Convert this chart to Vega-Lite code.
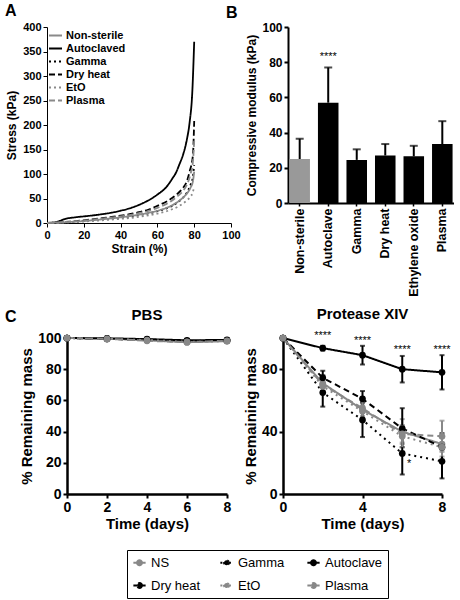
{
  "$schema": "https://vega.github.io/schema/vega-lite/v6.json",
  "padding": {"left": 5, "top": 3, "right": 0, "bottom": 0},
  "spacing": 10,
  "title": {"text": "A", "anchor": "start", "frame": "bounds", "fontSize": 16, "offset": -14},
  "config": {
    "font": "Liberation Sans",
    "view": {"stroke": null},
    "axis": {"grid": false, "labelFontWeight": "bold", "titleFontWeight": "bold", "domainColor": "black", "tickColor": "black", "labelColor": "black", "titleColor": "black", "labelOverlap": false, "labelFlush": false},
    "title": {"fontWeight": "bold", "color": "black"},
    "legend": {"labelColor": "black"}
  },
  "datasets": {
    "stress": [
      {"t": "Autoclaved", "s": 0, "v": 0}, {"t": "Autoclaved", "s": 3, "v": 0.5}, {"t": "Autoclaved", "s": 6, "v": 3}, {"t": "Autoclaved", "s": 10, "v": 8.5}, {"t": "Autoclaved", "s": 15, "v": 11.5}, {"t": "Autoclaved", "s": 20, "v": 13.5}, {"t": "Autoclaved", "s": 25, "v": 15.5}, {"t": "Autoclaved", "s": 30, "v": 18}, {"t": "Autoclaved", "s": 35, "v": 21}, {"t": "Autoclaved", "s": 40, "v": 25}, {"t": "Autoclaved", "s": 45, "v": 30}, {"t": "Autoclaved", "s": 50, "v": 37}, {"t": "Autoclaved", "s": 55, "v": 46}, {"t": "Autoclaved", "s": 60, "v": 58}, {"t": "Autoclaved", "s": 65, "v": 74}, {"t": "Autoclaved", "s": 68, "v": 90}, {"t": "Autoclaved", "s": 70, "v": 102}, {"t": "Autoclaved", "s": 72, "v": 120}, {"t": "Autoclaved", "s": 74, "v": 140}, {"t": "Autoclaved", "s": 76, "v": 170}, {"t": "Autoclaved", "s": 77.5, "v": 205}, {"t": "Autoclaved", "s": 79, "v": 270}, {"t": "Autoclaved", "s": 80, "v": 370},
      {"t": "Dry heat", "s": 0, "v": 0}, {"t": "Dry heat", "s": 10, "v": 2}, {"t": "Dry heat", "s": 20, "v": 5.5}, {"t": "Dry heat", "s": 30, "v": 10}, {"t": "Dry heat", "s": 40, "v": 15}, {"t": "Dry heat", "s": 50, "v": 22}, {"t": "Dry heat", "s": 55, "v": 27}, {"t": "Dry heat", "s": 60, "v": 35}, {"t": "Dry heat", "s": 65, "v": 44}, {"t": "Dry heat", "s": 68, "v": 51}, {"t": "Dry heat", "s": 71, "v": 60}, {"t": "Dry heat", "s": 74, "v": 72}, {"t": "Dry heat", "s": 76, "v": 85}, {"t": "Dry heat", "s": 77.5, "v": 105}, {"t": "Dry heat", "s": 79.3, "v": 138}, {"t": "Dry heat", "s": 80, "v": 208},
      {"t": "Plasma", "s": 0, "v": 0}, {"t": "Plasma", "s": 10, "v": 2}, {"t": "Plasma", "s": 20, "v": 5}, {"t": "Plasma", "s": 30, "v": 9}, {"t": "Plasma", "s": 40, "v": 13.5}, {"t": "Plasma", "s": 50, "v": 20}, {"t": "Plasma", "s": 55, "v": 24.5}, {"t": "Plasma", "s": 60, "v": 31}, {"t": "Plasma", "s": 65, "v": 39}, {"t": "Plasma", "s": 68, "v": 46}, {"t": "Plasma", "s": 71, "v": 55}, {"t": "Plasma", "s": 74, "v": 66}, {"t": "Plasma", "s": 76, "v": 78}, {"t": "Plasma", "s": 78, "v": 100}, {"t": "Plasma", "s": 79.3, "v": 125}, {"t": "Plasma", "s": 80, "v": 168},
      {"t": "Gamma", "s": 0, "v": 0}, {"t": "Gamma", "s": 10, "v": 1.5}, {"t": "Gamma", "s": 20, "v": 4}, {"t": "Gamma", "s": 30, "v": 7}, {"t": "Gamma", "s": 40, "v": 11}, {"t": "Gamma", "s": 50, "v": 16}, {"t": "Gamma", "s": 55, "v": 19.5}, {"t": "Gamma", "s": 60, "v": 24}, {"t": "Gamma", "s": 65, "v": 30}, {"t": "Gamma", "s": 68, "v": 35}, {"t": "Gamma", "s": 71, "v": 42}, {"t": "Gamma", "s": 74, "v": 52}, {"t": "Gamma", "s": 76, "v": 62}, {"t": "Gamma", "s": 78, "v": 78}, {"t": "Gamma", "s": 79.3, "v": 95}, {"t": "Gamma", "s": 80, "v": 118},
      {"t": "Non-sterile", "s": 0, "v": 0}, {"t": "Non-sterile", "s": 10, "v": 1.5}, {"t": "Non-sterile", "s": 20, "v": 4}, {"t": "Non-sterile", "s": 30, "v": 7.5}, {"t": "Non-sterile", "s": 40, "v": 11.5}, {"t": "Non-sterile", "s": 50, "v": 17}, {"t": "Non-sterile", "s": 55, "v": 20.5}, {"t": "Non-sterile", "s": 60, "v": 25}, {"t": "Non-sterile", "s": 65, "v": 31}, {"t": "Non-sterile", "s": 68, "v": 36}, {"t": "Non-sterile", "s": 71, "v": 43}, {"t": "Non-sterile", "s": 74, "v": 52}, {"t": "Non-sterile", "s": 76, "v": 60}, {"t": "Non-sterile", "s": 78, "v": 72}, {"t": "Non-sterile", "s": 79.3, "v": 85}, {"t": "Non-sterile", "s": 80, "v": 105},
      {"t": "EtO", "s": 0, "v": 0}, {"t": "EtO", "s": 10, "v": 1}, {"t": "EtO", "s": 20, "v": 3}, {"t": "EtO", "s": 30, "v": 5.5}, {"t": "EtO", "s": 40, "v": 8.5}, {"t": "EtO", "s": 50, "v": 12.5}, {"t": "EtO", "s": 55, "v": 15.5}, {"t": "EtO", "s": 60, "v": 19}, {"t": "EtO", "s": 65, "v": 24}, {"t": "EtO", "s": 68, "v": 28}, {"t": "EtO", "s": 71, "v": 33}, {"t": "EtO", "s": 74, "v": 40}, {"t": "EtO", "s": 76, "v": 46}, {"t": "EtO", "s": 78, "v": 54}, {"t": "EtO", "s": 79.3, "v": 63}, {"t": "EtO", "s": 80, "v": 75}
    ],
    "modulus": [
      {"t": "Non-sterile", "m": 25, "hi": 36.5},
      {"t": "Autoclave", "m": 57, "hi": 77},
      {"t": "Gamma", "m": 24.5, "hi": 30.5},
      {"t": "Dry heat", "m": 27, "hi": 33.5},
      {"t": "Ethylene oxide", "m": 26.5, "hi": 32.5},
      {"t": "Plasma", "m": 33.5, "hi": 46.5}
    ],
    "modstars": [{"t": "Autoclave", "m": 83, "label": "****"}],
    "mass": [
      {"c": "PBS", "g": "NS", "day": 0, "y": 100}, {"c": "PBS", "g": "NS", "day": 2, "y": 99.6}, {"c": "PBS", "g": "NS", "day": 4, "y": 98.5}, {"c": "PBS", "g": "NS", "day": 6, "y": 97.3}, {"c": "PBS", "g": "NS", "day": 8, "y": 98},
      {"c": "PBS", "g": "Gamma", "day": 0, "y": 100}, {"c": "PBS", "g": "Gamma", "day": 2, "y": 99.5}, {"c": "PBS", "g": "Gamma", "day": 4, "y": 99}, {"c": "PBS", "g": "Gamma", "day": 6, "y": 98}, {"c": "PBS", "g": "Gamma", "day": 8, "y": 98.5},
      {"c": "PBS", "g": "Autoclave", "day": 0, "y": 100}, {"c": "PBS", "g": "Autoclave", "day": 2, "y": 99.8}, {"c": "PBS", "g": "Autoclave", "day": 4, "y": 99.3}, {"c": "PBS", "g": "Autoclave", "day": 6, "y": 98.5}, {"c": "PBS", "g": "Autoclave", "day": 8, "y": 98.8},
      {"c": "PBS", "g": "Dry heat", "day": 0, "y": 100}, {"c": "PBS", "g": "Dry heat", "day": 2, "y": 99.5}, {"c": "PBS", "g": "Dry heat", "day": 4, "y": 98.8}, {"c": "PBS", "g": "Dry heat", "day": 6, "y": 98}, {"c": "PBS", "g": "Dry heat", "day": 8, "y": 98.3},
      {"c": "PBS", "g": "EtO", "day": 0, "y": 100}, {"c": "PBS", "g": "EtO", "day": 2, "y": 99.3}, {"c": "PBS", "g": "EtO", "day": 4, "y": 98.7}, {"c": "PBS", "g": "EtO", "day": 6, "y": 97.5}, {"c": "PBS", "g": "EtO", "day": 8, "y": 98},
      {"c": "PBS", "g": "Plasma", "day": 0, "y": 100}, {"c": "PBS", "g": "Plasma", "day": 2, "y": 99.5}, {"c": "PBS", "g": "Plasma", "day": 4, "y": 98.2}, {"c": "PBS", "g": "Plasma", "day": 6, "y": 97.3}, {"c": "PBS", "g": "Plasma", "day": 8, "y": 98.2},
      {"c": "P", "g": "NS", "day": 0, "y": 100, "lo": 100, "hi": 100}, {"c": "P", "g": "NS", "day": 2, "y": 71, "lo": 66, "hi": 76}, {"c": "P", "g": "NS", "day": 4, "y": 54, "lo": 49, "hi": 59}, {"c": "P", "g": "NS", "day": 6, "y": 40, "lo": 32, "hi": 48}, {"c": "P", "g": "NS", "day": 8, "y": 32, "lo": 27, "hi": 37},
      {"c": "P", "g": "Gamma", "day": 0, "y": 100, "lo": 100, "hi": 100}, {"c": "P", "g": "Gamma", "day": 2, "y": 65, "lo": 56, "hi": 76}, {"c": "P", "g": "Gamma", "day": 4, "y": 47.5, "lo": 36.5, "hi": 58.5}, {"c": "P", "g": "Gamma", "day": 6, "y": 26, "lo": 12.5, "hi": 39.5}, {"c": "P", "g": "Gamma", "day": 8, "y": 21, "lo": 10, "hi": 32},
      {"c": "P", "g": "Autoclave", "day": 0, "y": 100, "lo": 100, "hi": 100}, {"c": "P", "g": "Autoclave", "day": 2, "y": 93.5, "lo": 92, "hi": 95}, {"c": "P", "g": "Autoclave", "day": 4, "y": 89, "lo": 83, "hi": 95}, {"c": "P", "g": "Autoclave", "day": 6, "y": 80, "lo": 71.5, "hi": 88.5}, {"c": "P", "g": "Autoclave", "day": 8, "y": 78, "lo": 67, "hi": 89},
      {"c": "P", "g": "Dry heat", "day": 0, "y": 100, "lo": 100, "hi": 100}, {"c": "P", "g": "Dry heat", "day": 2, "y": 74.5, "lo": 70, "hi": 79}, {"c": "P", "g": "Dry heat", "day": 4, "y": 61, "lo": 56, "hi": 66}, {"c": "P", "g": "Dry heat", "day": 6, "y": 42, "lo": 30, "hi": 55}, {"c": "P", "g": "Dry heat", "day": 8, "y": 30, "lo": 21, "hi": 39},
      {"c": "P", "g": "EtO", "day": 0, "y": 100, "lo": 100, "hi": 100}, {"c": "P", "g": "EtO", "day": 2, "y": 69, "lo": 64, "hi": 74}, {"c": "P", "g": "EtO", "day": 4, "y": 53, "lo": 48, "hi": 58}, {"c": "P", "g": "EtO", "day": 6, "y": 37, "lo": 30, "hi": 44}, {"c": "P", "g": "EtO", "day": 8, "y": 30, "lo": 24, "hi": 36},
      {"c": "P", "g": "Plasma", "day": 0, "y": 100, "lo": 100, "hi": 100}, {"c": "P", "g": "Plasma", "day": 2, "y": 70, "lo": 65, "hi": 75}, {"c": "P", "g": "Plasma", "day": 4, "y": 55, "lo": 50, "hi": 60}, {"c": "P", "g": "Plasma", "day": 6, "y": 38.5, "lo": 33, "hi": 44}, {"c": "P", "g": "Plasma", "day": 8, "y": 37, "lo": 28, "hi": 47}
    ],
    "massstars": [
      {"day": 2, "y": 101, "label": "****"},
      {"day": 4, "y": 98, "label": "****"},
      {"day": 6, "y": 92.5, "label": "****"},
      {"day": 8, "y": 92.5, "label": "****"},
      {"day": 6.35, "y": 19, "label": "*"}
    ]
  },
  "resolve": {"scale": {"color": "independent", "strokeDash": "independent"}, "legend": {"color": "independent", "strokeDash": "independent"}},
  "vconcat": [
    {
      "spacing": -15,
      "resolve": {"scale": {"color": "independent", "strokeDash": "independent"}, "legend": {"color": "independent", "strokeDash": "independent"}},
      "hconcat": [
        {
          "width": 184,
          "height": 196,
          "data": {"name": "stress"},
          "mark": {"type": "line", "strokeWidth": 1.8, "interpolate": "monotone"},
          "encoding": {
            "x": {"field": "s", "type": "quantitative", "scale": {"domain": [0, 100]}, "axis": {"values": [0, 20, 40, 60, 80, 100], "title": "Strain (%)", "labelFontSize": 11, "titleFontSize": 12, "tickSize": 4, "titlePadding": 3}},
            "y": {"field": "v", "type": "quantitative", "scale": {"domain": [0, 400]}, "axis": {"values": [0, 50, 100, 150, 200, 250, 300, 350, 400], "title": "Stress (kPa)", "labelFontSize": 11, "titleFontSize": 12, "tickSize": 4, "titlePadding": 4}},
            "color": {"field": "t", "type": "nominal", "scale": {"domain": ["Non-sterile", "Autoclaved", "Gamma", "Dry heat", "EtO", "Plasma"], "range": ["#8a8a8a", "#000000", "#000000", "#000000", "#8a8a8a", "#8a8a8a"]},
              "legend": {"title": null, "orient": "top-left", "offset": 1, "padding": 0, "labelFontSize": 11, "labelFontWeight": "bold", "symbolSize": 169, "symbolStrokeWidth": 2, "rowPadding": 0, "labelOffset": 3}},
            "strokeDash": {"field": "t", "type": "nominal", "scale": {"domain": ["Non-sterile", "Autoclaved", "Gamma", "Dry heat", "EtO", "Plasma"], "range": [[1, 0], [1, 0], [2, 3], [6, 3], [2, 3], [6, 3]]},
              "legend": {"title": null, "orient": "top-left", "offset": 1, "padding": 0, "labelFontSize": 11, "labelFontWeight": "bold", "symbolSize": 169, "symbolStrokeWidth": 2, "rowPadding": 0, "labelOffset": 3}}
          }
        },
        {
          "width": 166,
          "height": 176,
          "title": {"text": "B", "anchor": "start", "frame": "group", "dx": -62, "fontSize": 16, "offset": 0},
          "data": {"name": "modulus"},
          "encoding": {
            "x": {"field": "t", "type": "nominal", "sort": null, "scale": {"paddingInner": 0.28, "paddingOuter": 0.05}, "axis": {"title": null, "labelAngle": -90, "labelFontSize": 12.5, "tickSize": 3, "tickWidth": 1.5, "domainWidth": 2, "labelPadding": 2}},
            "y": {"field": "m", "type": "quantitative", "scale": {"domain": [0, 100]}, "axis": {"values": [0, 20, 40, 60, 80, 100], "tickCount": 6, "labelOverlap": false, "title": "Compressive modulus (kPa)", "labelFontSize": 12, "titleFontSize": 12, "domainWidth": 2, "tickWidth": 2, "tickSize": 4, "titlePadding": 3}}
          },
          "layer": [
            {
              "mark": {"type": "bar"},
              "encoding": {
                "color": {"condition": {"test": "datum.t === 'Non-sterile'", "value": "#999999"}, "value": "#000000"}
              }
            },
            {
              "mark": {"type": "rule", "strokeWidth": 2, "color": "#000000"},
              "encoding": {"y2": {"field": "hi"}}
            },
            {
              "mark": {"type": "tick", "thickness": 2, "size": 8, "color": "#000000"},
              "encoding": {"y": {"field": "hi", "type": "quantitative", "axis": {"values": [0, 20, 40, 60, 80, 100], "tickCount": 6, "labelOverlap": false, "title": "Compressive modulus (kPa)", "labelFontSize": 12, "titleFontSize": 12, "domainWidth": 2, "tickWidth": 2, "tickSize": 4, "titlePadding": 3}}}
            },
            {
              "data": {"name": "modstars"},
              "mark": {"type": "text", "fontSize": 11, "color": "#000000", "baseline": "middle"},
              "encoding": {"text": {"field": "label"}}
            }
          ]
        }
      ]
    },
    {
      "spacing": -29,
      "hconcat": [
        {
          "width": 1,
          "height": 156,
          "title": {"text": "C", "anchor": "start", "frame": "group", "dx": -42, "fontSize": 16, "offset": 13},
          "data": {"values": []},
          "mark": {"type": "point"},
          "encoding": {}
        },
        {
          "spacing": 12,
          "hconcat": [
            {
              "width": 160,
              "height": 156,
              "title": {"text": "PBS", "fontSize": 15, "offset": 8},
              "data": {"name": "mass"},
              "transform": [{"filter": "datum.c === 'PBS'"}],
              "encoding": {
                "x": {"field": "day", "type": "quantitative", "scale": {"domain": [0, 8]}, "axis": {"values": [0, 2, 4, 6, 8], "title": "Time (days)", "labelFontSize": 14, "titleFontSize": 15, "domainWidth": 2.5, "tickWidth": 2, "tickSize": 4, "titlePadding": 2}},
                "y": {"field": "y", "type": "quantitative", "scale": {"domain": [0, 100]}, "axis": {"values": [0, 20, 40, 60, 80, 100], "title": "% Remaining mass", "labelFontSize": 14, "titleFontSize": 15, "domainWidth": 2.5, "tickWidth": 2, "tickSize": 4, "titlePadding": 3}},
                "color": {"field": "g", "type": "nominal", "scale": {"domain": ["NS", "Gamma", "Autoclave", "Dry heat", "EtO", "Plasma"], "range": ["#888888", "#000000", "#000000", "#000000", "#888888", "#888888"]},
                  "legend": {"title": null, "orient": "none", "legendX": 80, "legendY": 212, "direction": "horizontal", "columns": 3, "strokeColor": "#000000", "padding": 5, "labelFontSize": 13, "gridAlign": "all", "columnPadding": 7, "rowPadding": 8, "symbolSize": 150, "symbolStrokeWidth": 2, "symbolType": "M-1,0H-0.4M0.4,0H1M0.4,0A0.4,0.4 0 1,1 -0.4,0A0.4,0.4 0 1,1 0.4,0Z"}}
              },
              "layer": [
                {"mark": {"type": "line", "strokeWidth": 2}, "encoding": {"strokeDash": {"field": "g", "type": "nominal", "scale": {"domain": ["NS", "Gamma", "Autoclave", "Dry heat", "EtO", "Plasma"], "range": [[1, 0], [2, 4], [1, 0], [6, 4], [2, 4], [6, 4]]}, "legend": {"title": null, "orient": "none", "legendX": 80, "legendY": 212, "direction": "horizontal", "columns": 3, "strokeColor": "#000000", "padding": 5, "labelFontSize": 13, "gridAlign": "all", "columnPadding": 7, "rowPadding": 8, "symbolSize": 150, "symbolStrokeWidth": 2, "symbolType": "M-1,0H-0.4M0.4,0H1M0.4,0A0.4,0.4 0 1,1 -0.4,0A0.4,0.4 0 1,1 0.4,0Z"}}}},
                {"mark": {"type": "point", "filled": true, "size": 45, "opacity": 1}}
              ]
            },
            {
              "width": 159,
              "height": 156,
              "title": {"text": "Protease XIV", "fontSize": 15, "offset": 8},
              "layer": [
                {
                  "data": {"name": "mass"},
                  "transform": [{"filter": "datum.c === 'P'"}],
                  "encoding": {
                    "x": {"field": "day", "type": "quantitative", "scale": {"domain": [0, 8]}, "axis": {"values": [0, 2, 4, 6, 8], "title": "Time (days)", "labelFontSize": 14, "titleFontSize": 15, "domainWidth": 2.5, "tickWidth": 2, "tickSize": 4, "titlePadding": 2}},
                    "color": {"field": "g", "type": "nominal", "scale": {"domain": ["NS", "Gamma", "Autoclave", "Dry heat", "EtO", "Plasma"], "range": ["#888888", "#000000", "#000000", "#000000", "#888888", "#888888"]},
                      "legend": {"title": null, "orient": "none", "legendX": 80, "legendY": 212, "direction": "horizontal", "columns": 3, "strokeColor": "#000000", "padding": 5, "labelFontSize": 13, "gridAlign": "all", "columnPadding": 7, "rowPadding": 8, "symbolSize": 150, "symbolStrokeWidth": 2, "symbolType": "M-1,0H-0.4M0.4,0H1M0.4,0A0.4,0.4 0 1,1 -0.4,0A0.4,0.4 0 1,1 0.4,0Z"}}
                  },
                  "layer": [
                    {"mark": {"type": "errorbar", "ticks": true, "thickness": 2}, "encoding": {"y": {"field": "lo", "type": "quantitative", "scale": {"domain": [0, 100]}, "title": "% Remaining mass", "axis": {"values": [0, 20, 40, 60, 80, 100], "title": "% Remaining mass", "labelFontSize": 14, "titleFontSize": 15, "domainWidth": 2.5, "tickWidth": 2, "tickSize": 4, "titlePadding": 3}}, "y2": {"field": "hi"}}},
                    {"mark": {"type": "line", "strokeWidth": 2}, "encoding": {"y": {"field": "y", "type": "quantitative", "title": "% Remaining mass"}, "strokeDash": {"field": "g", "type": "nominal", "scale": {"domain": ["NS", "Gamma", "Autoclave", "Dry heat", "EtO", "Plasma"], "range": [[1, 0], [2, 4], [1, 0], [6, 4], [2, 4], [6, 4]]}, "legend": {"title": null, "orient": "none", "legendX": 80, "legendY": 212, "direction": "horizontal", "columns": 3, "strokeColor": "#000000", "padding": 5, "labelFontSize": 13, "gridAlign": "all", "columnPadding": 7, "rowPadding": 8, "symbolSize": 150, "symbolStrokeWidth": 2, "symbolType": "M-1,0H-0.4M0.4,0H1M0.4,0A0.4,0.4 0 1,1 -0.4,0A0.4,0.4 0 1,1 0.4,0Z"}}}},
                    {"mark": {"type": "point", "filled": true, "size": 45, "opacity": 1}, "encoding": {"y": {"field": "y", "type": "quantitative", "title": "% Remaining mass"}}}
                  ]
                },
                {
                  "data": {"name": "massstars"},
                  "mark": {"type": "text", "fontSize": 11, "color": "#000000", "baseline": "middle"},
                  "encoding": {"x": {"field": "day", "type": "quantitative"}, "y": {"field": "y", "type": "quantitative", "title": "% Remaining mass"}, "text": {"field": "label"}}
                }
              ]
            }
          ]
        }
      ]
    }
  ]
}
